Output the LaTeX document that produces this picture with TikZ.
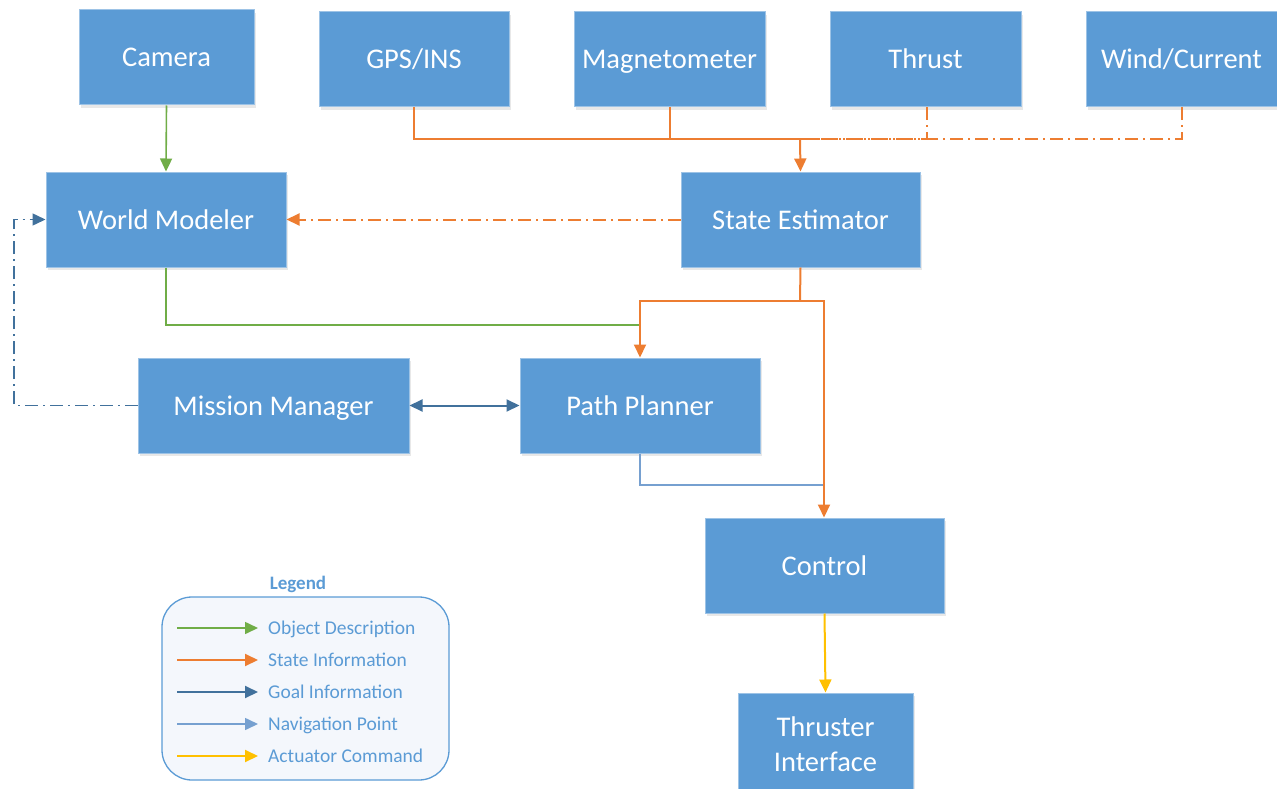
\documentclass[tikz,border=0pt]{standalone}
\usepackage{fontspec}
\setmainfont{Carlito}
\usetikzlibrary{arrows.meta,shadows}
\definecolor{boxfill}{RGB}{91,155,213}
\definecolor{boxline}{RGB}{157,195,230}
\definecolor{orangeC}{RGB}{237,125,49}
\definecolor{greenC}{RGB}{112,173,71}
\definecolor{darkblueC}{RGB}{65,113,156}
\definecolor{lightblueC}{RGB}{118,160,208}
\definecolor{yellowC}{RGB}{255,192,0}
\definecolor{legendfill}{RGB}{244,247,252}
\tikzset{
  box/.style={draw=boxline, line width=1pt, fill=boxfill, text=white, minimum height=95pt,
    font=\fontsize{28.5}{35}\selectfont, align=center, inner sep=2pt,
    text height=21pt, text depth=2pt,
    drop shadow={opacity=0.18, shadow xshift=2pt, shadow yshift=-3pt}},
  tip/.style={-{Triangle[length=13pt,width=12pt]}},
  orl/.style={draw=orangeC, line width=2pt},
  orld/.style={orl, dash pattern=on 13pt off 5pt on 2pt off 5pt},
  grl/.style={draw=greenC, line width=1.6pt},
  dbl/.style={draw=darkblueC, line width=2pt},
  dbld/.style={draw=darkblueC, line width=1.5pt, dash pattern=on 13pt off 5pt on 2pt off 5pt},
  lbl/.style={draw=lightblueC, line width=1.6pt},
  yel/.style={draw=yellowC, line width=2pt},
  legtext/.style={text=boxfill, font=\fontsize{19.5}{23}\selectfont, anchor=base west, inner sep=0pt}
}
\begin{document}
\begin{tikzpicture}[x=1pt,y=-1pt]
\useasboundingbox (0,0) rectangle (1277,789);
% boxes
\node[box, minimum width=175pt] (cam) at (166.5,57.5) {Camera};
\node[box, minimum width=190pt] (gps) at (414,59.5) {GPS/INS};
\node[box, minimum width=191pt] (mag) at (669.5,59.5) {Magnetometer};
\node[box, minimum width=191pt] (thr) at (925.5,59.5) {Thrust};
\node[box, minimum width=191pt] (wind) at (1181.5,59.5) {Wind/Current};
\node[box, minimum width=240pt] (wm) at (166,219.5) {World Modeler};
\node[box, minimum width=239pt] (se) at (800.5,219.5) {State Estimator};
\node[box, minimum width=271pt] (mm) at (273.5,405.5) {Mission Manager};
\node[box, minimum width=240pt] (pp) at (640,405.5) {Path Planner};
\node[box, minimum width=239pt] (ctrl) at (824.5,565.5) {Control};
\node[box, minimum width=175pt, minimum height=97pt, text height=, text depth=] (ti) at (825.5,741.5) {};
\node[text=white, font=\fontsize{28.5}{35}\selectfont, align=center] (tit) at (825.5,744) {Thruster\\Interface};
% junction coordinates
\coordinate (jn) at (800,139);
\coordinate (sp) at (800,301);
\coordinate (gj) at (640,325);
\coordinate (nj) at (824,485);
\coordinate (lc1) at (14,405.5);
\coordinate (lc2) at (14,219.5);
% sensor connectors
\draw[orld] (wind.south) |- (jn);
\draw[orld] ([xshift=1.5pt]thr.south) |- (jn);
\draw[orl] (gps.south) |- ([xshift=19pt]jn);
\draw[orl] (mag.south) -- (mag.south |- jn);
\draw[orl,tip] (jn) -- (se.north);
% camera
\draw[grl,tip] (cam.south) -- (wm.north);
% state estimator to world modeler
\draw[orld,tip] (se.west) -- (wm.east);
% world modeler to path planner junction
\draw[grl] (wm.south) |- (gj);
% path planner to control
\draw[lbl] (pp.south) |- (nj);
% state estimator down
\draw[orl] (se.south) -- (sp);
\draw[orl,tip] (sp) -| (pp.north);
\draw[orl,tip] (sp) -| (ctrl.north -| nj);
% mission manager <-> path planner
\draw[dbl,{Triangle[length=13pt,width=12pt]}-{Triangle[length=13pt,width=12pt]}] (mm.east) -- (pp.west);
% mission manager to world modeler
\draw[dbld,tip] (mm.west) -- (lc1) -- (lc2) -- (wm.west);
% control to thruster
\draw[yel,tip] (ctrl.south) -- (ti.north);
% legend
\node[text=boxfill, font=\fontsize{19}{23}\selectfont\bfseries] (legt) at (298,584) {Legend};
\node[draw=boxfill, line width=1.3pt, rounded corners=30pt, fill=legendfill, minimum width=287pt, minimum height=183pt] (leg) at (305.5,688.5) {};
\coordinate (a1) at (177,628); \coordinate (b1) at (258,628);
\coordinate (a2) at (177,660); \coordinate (b2) at (258,660);
\coordinate (a3) at (177,692); \coordinate (b3) at (258,692);
\coordinate (a4) at (177,724); \coordinate (b4) at (258,724);
\coordinate (a5) at (177,756); \coordinate (b5) at (258,756);
\draw[grl,tip] (a1) -- (b1);
\draw[orl,tip] (a2) -- (b2);
\draw[dbl,tip] (a3) -- (b3);
\draw[lbl,tip] (a4) -- (b4);
\draw[yel,tip] (a5) -- (b5);
\node[legtext] (t1) at (268,634.5) {Object Description};
\node[legtext] (t2) at (268,666.5) {State Information};
\node[legtext] (t3) at (268,698.5) {Goal Information};
\node[legtext] (t4) at (268,730.5) {Navigation Point};
\node[legtext] (t5) at (268,762.5) {Actuator Command};
\end{tikzpicture}
\end{document}
